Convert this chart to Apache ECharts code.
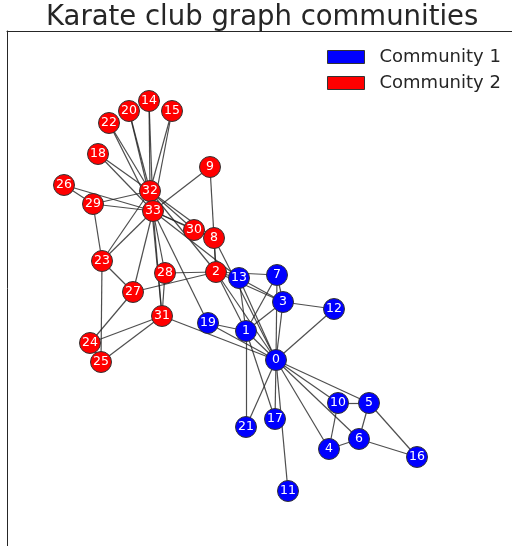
<!DOCTYPE html>
<html>
<head>
<meta charset="utf-8">
<script src="https://cdn.jsdelivr.net/npm/echarts@6/dist/echarts.min.js"></script>
<style>
html,body{margin:0;padding:0;background:#fff;}
#main{width:512px;height:546px;}
</style>
</head>
<body>
<div id="main"></div>
<script>
// layout positions (x right, y down)
var nodeX=[276,246,216,283,329,369,359,277,214,210,338,288,334,239,149,172,417,275,98,208,129,246,109,102,90,101,64,133,165,93,194,162,150,153];
var nodeY=[360,331,272,302,449,403,439,275,238,167,403,491,309,278,101,111,457,419,154,323,111,427,123,261,343,362,185,292,273,204,230,316,191,211];
// 0 = Community 1, 1 = Community 2
var community=[0,0,1,0,0,0,0,0,1,1,0,0,0,0,1,1,0,0,1,0,1,0,1,1,1,1,1,1,1,1,1,1,1,1];
var communityNames=['Community 1','Community 2'];
var edgeFrom=[0,0,0,0,0,0,0,0,0,0,0,0,0,0,0,0,1,1,1,1,1,1,1,2,2,2,2,2,2,2,2,3,3,3,4,4,5,5,5,6,8,8,8,9,13,14,14,15,15,18,18,19,20,20,22,22,23,23,23,23,23,24,24,24,25,26,26,27,28,28,29,29,30,30,31,31,32];
var edgeTo=[1,2,3,4,5,6,7,8,10,11,12,13,17,19,21,31,2,3,7,13,17,19,21,3,7,8,9,13,27,28,32,7,12,13,6,10,6,10,16,16,30,32,33,33,33,32,33,32,33,32,33,33,32,33,32,33,25,27,29,32,33,25,27,31,31,29,33,33,31,33,32,33,32,33,32,33,33];

var chart=echarts.init(document.getElementById('main'));

var nodes=[];
for(var i=0;i<nodeX.length;i++){
    nodes.push({name:String(i),value:[nodeX[i],nodeY[i]],category:community[i]});
}
var links=[];
for(var j=0;j<edgeFrom.length;j++){
    links.push({source:String(edgeFrom[j]),target:String(edgeTo[j])});
}

var frame={show:true,onZero:false,lineStyle:{color:'#262626',width:1}};

var option={
    animation:false,
    title:{
        text:'Karate club graph communities',
        left:46,
        top:4,
        padding:0,
        textStyle:{fontFamily:'DejaVu Sans',fontSize:27.5,fontWeight:'normal',color:'#262626'}
    },
    legend:{
        data:communityNames,
        orient:'vertical',
        left:327,
        top:48,
        padding:0,
        itemWidth:37,
        itemHeight:13,
        itemGap:8,
        icon:'rect',
        itemStyle:{borderColor:'#333',borderWidth:1},
        textStyle:{fontFamily:'DejaVu Sans',fontSize:18,color:'#262626',padding:[0,0,0,10]}
    },
    grid:{
        left:7,
        top:31,
        right:0,
        bottom:0
    },
    xAxis:{type:'value',min:7,max:512,position:'top',axisLine:frame,axisTick:{show:false},axisLabel:{show:false},splitLine:{show:false}},
    yAxis:{type:'value',min:31,max:546,inverse:true,axisLine:frame,axisTick:{show:false},axisLabel:{show:false},splitLine:{show:false}},
    series:[{
        type:'graph',
        coordinateSystem:'cartesian2d',
        symbolSize:21,
        categories:[
            {name:communityNames[0],itemStyle:{color:'#0000ff'}},
            {name:communityNames[1],itemStyle:{color:'#ff0000'}}
        ],
        itemStyle:{borderColor:'#333',borderWidth:1},
        label:{show:true,position:'inside',color:'#fff',fontFamily:'DejaVu Sans',fontSize:12.5},
        lineStyle:{color:'#222',width:1.2,opacity:0.8},
        data:nodes,
        links:links
    }]
};
chart.setOption(option);
</script>
</body>
</html>
